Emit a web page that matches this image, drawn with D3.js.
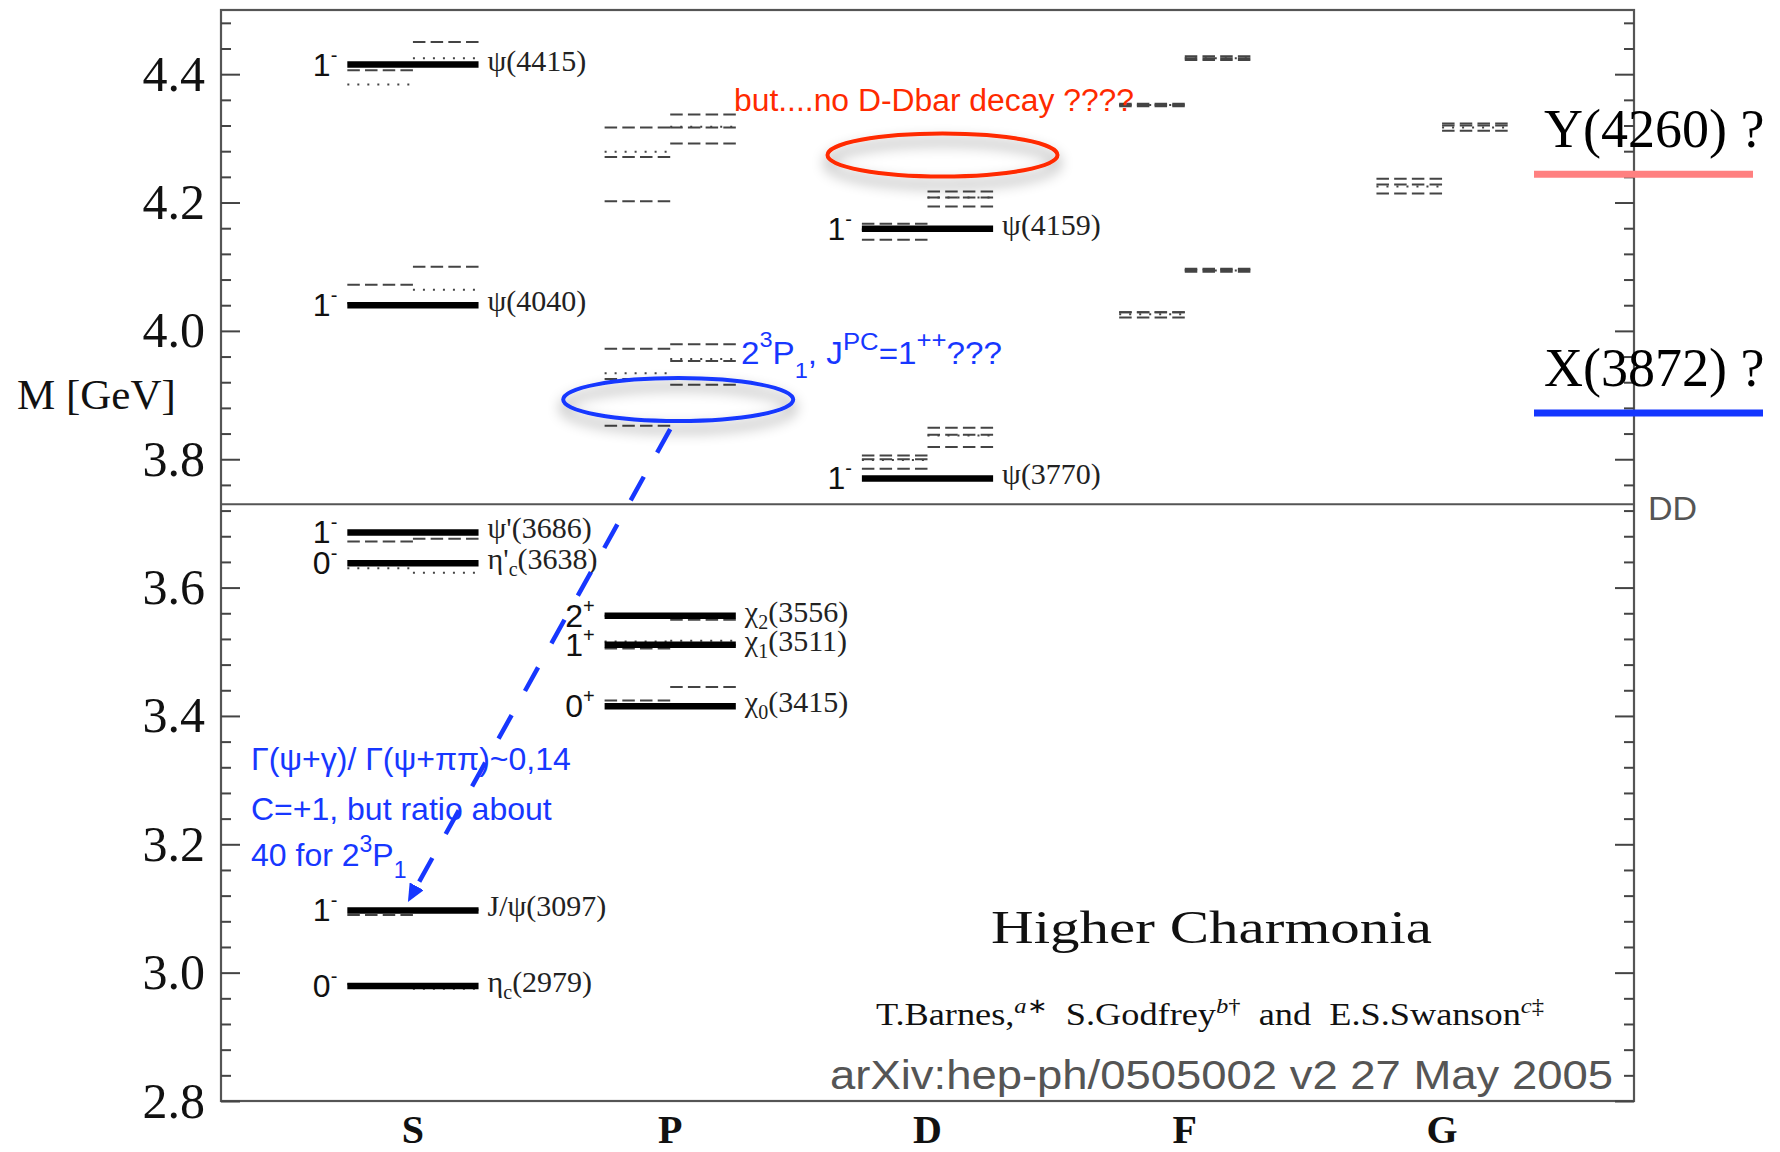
<!DOCTYPE html>
<html>
<head>
<meta charset="utf-8">
<script src="https://cdn.jsdelivr.net/npm/d3@7"></script>
<style>
  body { margin: 0; background: #fff; }
  svg { display: block; }
  text { white-space: pre; }
</style>
</head>
<body>
<svg id="chart" width="1780" height="1152"></svg>
<script>
// orbital columns
const columns = ["S", "P", "D", "F", "G"];

// experimental states (thick bars), masses in GeV
const expCol  = ["S", "S", "S", "S", "S", "S", "P", "P", "P", "D", "D"];
const expMass = [2.979, 3.097, 3.638, 3.686, 4.040, 4.415, 3.415, 3.511, 3.556, 3.770, 4.159];
const expJ    = ["0", "1", "0", "1", "1", "1", "0", "1", "2", "1", "1"];
const expPC   = ["-", "-", "-", "-", "-", "-", "+", "+", "+", "-", "-"];
const expName = ["η", "J/ψ", "η'", "ψ'", "ψ", "ψ", "χ", "χ", "χ", "ψ", "ψ"];
const expSub  = ["c", "", "c", "", "", "", "0", "1", "2", "", ""];

// potential model levels: NR model drawn on the left half, GI model on the right half
// triplets are dashed, singlets dotted
const nrTriplets = [
  ["S", 3.090], ["S", 3.672], ["S", 4.072], ["S", 4.406],
  ["P", 3.556], ["P", 3.505], ["P", 3.424], ["P", 3.972], ["P", 3.925], ["P", 3.852],
  ["P", 4.317], ["P", 4.271], ["P", 4.202],
  ["D", 3.806], ["D", 3.800], ["D", 3.785], ["D", 4.167], ["D", 4.158], ["D", 4.142],
  ["F", 4.021], ["F", 4.029], ["F", 4.029], ["F", 4.350], ["F", 4.352], ["F", 4.354],
  ["G", 4.214], ["G", 4.228], ["G", 4.237]
];
const nrSinglets = [
  ["S", 2.982], ["S", 3.630], ["S", 4.043], ["S", 4.384],
  ["P", 3.516], ["P", 3.934], ["P", 4.279],
  ["D", 3.799], ["D", 4.158],
  ["F", 4.026], ["F", 4.352],
  ["G", 4.225]
];
const giTriplets = [
  ["S", 3.098], ["S", 3.676], ["S", 4.100], ["S", 4.450],
  ["P", 3.550], ["P", 3.510], ["P", 3.445], ["P", 3.979], ["P", 3.953], ["P", 3.916],
  ["P", 4.337], ["P", 4.317], ["P", 4.292],
  ["D", 3.849], ["D", 3.838], ["D", 3.819], ["D", 4.217], ["D", 4.208], ["D", 4.194],
  ["F", 4.095], ["F", 4.097], ["F", 4.092], ["F", 4.422], ["F", 4.425], ["F", 4.428],
  ["G", 4.312], ["G", 4.320], ["G", 4.323]
];
const giSinglets = [
  ["S", 2.975], ["S", 3.623], ["S", 4.064], ["S", 4.425],
  ["P", 3.517], ["P", 3.956], ["P", 4.318],
  ["D", 3.837], ["D", 4.208],
  ["F", 4.094], ["F", 4.425],
  ["G", 4.317]
];

// axis ticks
const majorTicks = [2.8, 3.0, 3.2, 3.4, 3.6, 3.8, 4.0, 4.2, 4.4];
const minorTicks = d3.range(2.84, 4.49, 0.04).map(v => +v.toFixed(2)).filter(v => !majorTicks.includes(v));

// annotations
const ddThreshold = 3.73;
const exoticMass  = [4.244, 3.872];
const exoticLabel = ["Y(4260) ?", "X(3872) ?"];
const exoticColor = ["#ff8080", "#1436ff"];
const ringCol  = ["D", "P"];
const ringMass = [4.274, 3.893];
const arrowFrom = ["P", 3.847];
const arrowTo   = ["S", 3.110];

const blue = "#1737ff";
const red = "#ff2a00";
const serif = "Liberation Serif, 'Times New Roman', serif";
const sans = "Liberation Sans, Arial, sans-serif";

const svg = d3.select("#chart");
const frame = { left: 221, right: 1634, top: 10, bottom: 1101 };

const x = d3.scalePoint().domain(columns).range([frame.left, frame.right]).padding(0.746);
const y = d3.scaleLinear().domain([2.8, 4.5]).range([frame.bottom, frame.top]);
const half = x.step() * 0.255;

// defs: shadow for the rings and the arrow head
const defs = svg.append("defs");
const f = defs.append("filter").attr("id", "shadow")
  .attr("x", "-30%").attr("y", "-120%").attr("width", "160%").attr("height", "340%");
f.append("feGaussianBlur").attr("in", "SourceAlpha").attr("stdDeviation", 7);
f.append("feOffset").attr("dy", 8);
f.append("feComponentTransfer").append("feFuncA").attr("type", "linear").attr("slope", 0.5);
const fm = f.append("feMerge");
fm.append("feMergeNode");
fm.append("feMergeNode").attr("in", "SourceGraphic");

defs.append("marker").attr("id", "arrow")
  .attr("markerUnits", "userSpaceOnUse")
  .attr("viewBox", "0 0 18 16").attr("refX", 18).attr("refY", 8)
  .attr("markerWidth", 18).attr("markerHeight", 16).attr("orient", "auto")
  .append("path").attr("d", "M0,0L18,8L0,16Z").attr("fill", blue);

// frame
svg.append("rect")
  .attr("x", frame.left).attr("y", frame.top)
  .attr("width", frame.right - frame.left).attr("height", frame.bottom - frame.top)
  .attr("fill", "none").attr("stroke", "#555").attr("stroke-width", 2.2);

// axes: ticks point inwards on both sides
function styleAxis(g) {
  g.select(".domain").remove();
  g.attr("color", "#444");
  g.selectAll("line").attr("stroke-width", 2);
}
svg.append("g").attr("transform", `translate(${frame.left},0)`)
  .call(d3.axisLeft(y).tickValues(majorTicks).tickSizeInner(-19).tickSizeOuter(0)
    .tickPadding(16).tickFormat(d3.format(".1f")))
  .call(styleAxis)
  .attr("font-family", serif).attr("font-size", 50)
  .call(g => g.selectAll("text").attr("fill", "#111"));
svg.append("g").attr("transform", `translate(${frame.left},0)`)
  .call(d3.axisLeft(y).tickValues(minorTicks).tickSizeInner(-10).tickSizeOuter(0).tickFormat(""))
  .call(styleAxis);
svg.append("g").attr("transform", `translate(${frame.right},0)`)
  .call(d3.axisRight(y).tickValues(majorTicks).tickSizeInner(-19).tickSizeOuter(0).tickFormat(""))
  .call(styleAxis);
svg.append("g").attr("transform", `translate(${frame.right},0)`)
  .call(d3.axisRight(y).tickValues(minorTicks).tickSizeInner(-10).tickSizeOuter(0).tickFormat(""))
  .call(styleAxis);

// column labels
svg.append("g").selectAll("text").data(columns).join("text")
  .attr("x", d => x(d)).attr("y", 1143)
  .attr("text-anchor", "middle").attr("font-family", serif)
  .attr("font-weight", "bold").attr("font-size", 40).attr("fill", "#111")
  .text(d => d);

svg.append("text").attr("x", 17).attr("y", 409)
  .attr("font-family", serif).attr("font-size", 43).attr("fill", "#111")
  .text("M [GeV]");

// DD threshold
svg.append("line")
  .attr("x1", frame.left).attr("x2", frame.right)
  .attr("y1", y(ddThreshold)).attr("y2", y(ddThreshold))
  .attr("stroke", "#555").attr("stroke-width", 2);
svg.append("text").attr("x", frame.right + 14).attr("y", y(ddThreshold) + 16)
  .attr("font-family", sans).attr("font-size", 34).attr("fill", "#555").text("DD");

// model levels
function drawLevels(list, side, dash, width) {
  svg.append("g").selectAll("line").data(list).join("line")
    .attr("x1", d => side === "left" ? x(d[0]) - half : x(d[0]))
    .attr("x2", d => side === "left" ? x(d[0]) : x(d[0]) + half)
    .attr("y1", d => y(d[1])).attr("y2", d => y(d[1]))
    .attr("stroke", "#444").attr("stroke-width", width)
    .attr("stroke-dasharray", dash);
}
drawLevels(nrTriplets, "left", "12.5,5.2", 2);
drawLevels(giTriplets, "right", "12.5,5.2", 2);
drawLevels(nrSinglets, "left", "2,8", 2);
drawLevels(giSinglets, "right", "2,8", 2);

// experimental levels
const exp = expMass.map((m, i) => ({
  col: expCol[i], m, j: expJ[i], pc: expPC[i], name: expName[i], sub: expSub[i]
}));
svg.append("g").selectAll("line").data(exp).join("line")
  .attr("x1", d => x(d.col) - half).attr("x2", d => x(d.col) + half)
  .attr("y1", d => y(d.m)).attr("y2", d => y(d.m))
  .attr("stroke", "#000").attr("stroke-width", 6.5);

const jpc = svg.append("g").selectAll("text").data(exp).join("text")
  .attr("x", d => x(d.col) - half - 10).attr("y", d => y(d.m) + 11)
  .attr("text-anchor", "end").attr("font-family", sans)
  .attr("font-size", 32).attr("fill", "#111");
jpc.append("tspan").text(d => d.j);
jpc.append("tspan").attr("dy", -14).attr("font-size", 20).text(d => d.pc);

const names = svg.append("g").selectAll("text").data(exp).join("text")
  .attr("x", d => x(d.col) + half + 9).attr("y", d => y(d.m) + 6)
  .attr("font-family", serif).attr("font-size", 30).attr("fill", "#222");
names.append("tspan").text(d => d.name);
names.append("tspan").attr("font-size", 20).attr("dy", d => d.sub ? 7 : 0).text(d => d.sub);
names.append("tspan").attr("dy", d => d.sub ? -7 : 0).text(d => `(${Math.round(d.m * 1000)})`);

// rings
const ringShift = [15, 8];
svg.append("g").selectAll("ellipse").data(ringMass).join("ellipse")
  .attr("cx", (d, i) => x(ringCol[i]) + ringShift[i]).attr("cy", d => y(d))
  .attr("rx", 115).attr("ry", 21.5)
  .attr("fill", "none").attr("stroke", (d, i) => i === 0 ? red : blue)
  .attr("stroke-width", 4).attr("filter", "url(#shadow)");

// arrow from the 2P region down to J/psi
svg.append("line")
  .attr("x1", x(arrowFrom[0])).attr("y1", y(arrowFrom[1]))
  .attr("x2", x(arrowTo[0]) - 5).attr("y2", y(arrowTo[1]))
  .attr("stroke", blue).attr("stroke-width", 4.5)
  .attr("stroke-dasharray", "27,27.5").attr("marker-end", "url(#arrow)");

// exotic candidates on the right
svg.append("g").selectAll("line").data(exoticMass).join("line")
  .attr("x1", 1534).attr("x2", (d, i) => i === 0 ? 1753 : 1763)
  .attr("y1", d => y(d)).attr("y2", d => y(d))
  .attr("stroke", (d, i) => exoticColor[i]).attr("stroke-width", 7);
svg.append("g").selectAll("text").data(exoticMass).join("text")
  .attr("x", 1544).attr("y", d => y(d) - 27)
  .attr("font-family", serif).attr("font-size", 54).attr("fill", "#000")
  .text((d, i) => exoticLabel[i]);

// red comment
svg.append("text").attr("x", 734).attr("y", 111)
  .attr("font-family", sans).attr("font-size", 31).attr("fill", red)
  .attr("textLength", 400).attr("lengthAdjust", "spacingAndGlyphs")
  .text("but....no D-Dbar decay ????");

// blue comments
const t1 = svg.append("text").attr("x", 741).attr("y", 364)
  .attr("font-family", sans).attr("font-size", 31).attr("fill", blue)
  .attr("textLength", 261).attr("lengthAdjust", "spacingAndGlyphs");
t1.append("tspan").text("2");
t1.append("tspan").attr("dy", -17).attr("font-size", 22).text("3");
t1.append("tspan").attr("dy", 17).text("P");
t1.append("tspan").attr("dy", 14).attr("font-size", 22).text("1");
t1.append("tspan").attr("dy", -14).text(", J");
t1.append("tspan").attr("dy", -14).attr("font-size", 24).text("PC");
t1.append("tspan").attr("dy", 14).text("=1");
t1.append("tspan").attr("dy", -16).attr("font-size", 24).text("++");
t1.append("tspan").attr("dy", 16).text("???");

const block = svg.append("text").attr("font-family", sans).attr("font-size", 32).attr("fill", blue);
block.append("tspan").attr("x", 251).attr("y", 770).text("Γ(ψ+γ)/ Γ(ψ+ππ)~0,14");
block.append("tspan").attr("x", 251).attr("y", 820).text("C=+1, but ratio about");
block.append("tspan").attr("x", 251).attr("y", 866).text("40 for 2");
block.append("tspan").attr("dy", -14).attr("font-size", 23).text("3");
block.append("tspan").attr("dy", 14).text("P");
block.append("tspan").attr("dy", 12).attr("font-size", 23).text("1");

// title block
svg.append("text").attr("x", 991).attr("y", 943)
  .attr("font-family", serif).attr("font-size", 47).attr("fill", "#111")
  .attr("textLength", 441).attr("lengthAdjust", "spacingAndGlyphs")
  .text("Higher Charmonia");

const auth = svg.append("text").attr("x", 876).attr("y", 1025)
  .attr("font-family", serif).attr("font-size", 31).attr("fill", "#111")
  .attr("textLength", 668).attr("lengthAdjust", "spacingAndGlyphs");
auth.append("tspan").text("T.Barnes,");
auth.append("tspan").attr("dy", -12).attr("font-size", 21).attr("font-style", "italic").text("a");
auth.append("tspan").attr("font-size", 21).text("∗");
auth.append("tspan").attr("dy", 12).text("  S.Godfrey");
auth.append("tspan").attr("dy", -12).attr("font-size", 21).attr("font-style", "italic").text("b");
auth.append("tspan").attr("font-size", 21).text("†");
auth.append("tspan").attr("dy", 12).text("  and  E.S.Swanson");
auth.append("tspan").attr("dy", -12).attr("font-size", 21).attr("font-style", "italic").text("c");
auth.append("tspan").attr("font-size", 21).text("‡");

svg.append("text").attr("x", 830).attr("y", 1089)
  .attr("font-family", sans).attr("font-size", 40).attr("fill", "#555")
  .attr("textLength", 783).attr("lengthAdjust", "spacingAndGlyphs")
  .text("arXiv:hep-ph/0505002 v2 27 May 2005");
</script>
</body>
</html>
